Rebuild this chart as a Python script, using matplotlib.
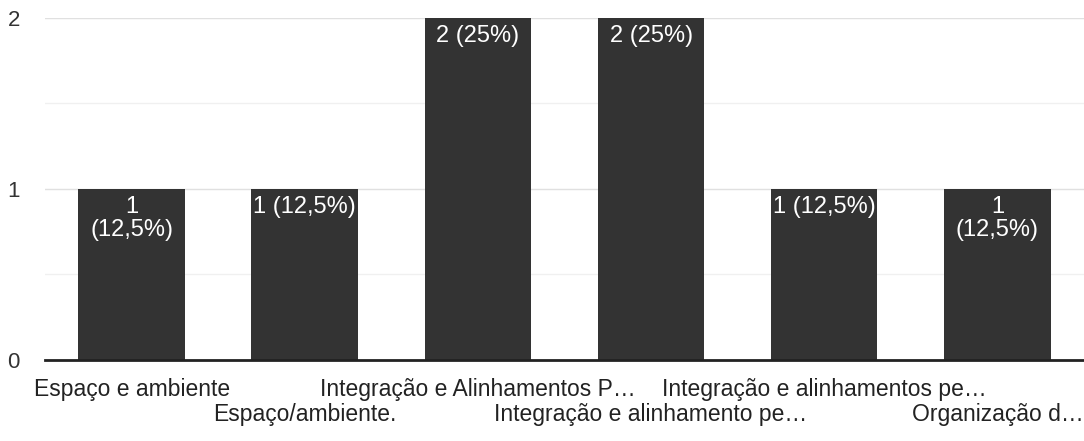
import matplotlib.pyplot as plt
from matplotlib.ticker import MultipleLocator

plt.rcParams['font.family'] = ['Liberation Sans', 'DejaVu Sans']

categorias = ['Espaço e ambiente', 'Espaço/ambiente.', 'Integração e Alinhamentos P…',
              'Integração e alinhamento pe…', 'Integração e alinhamentos pe…', 'Organização d…']
respostas = [1, 1, 2, 2, 1, 1]
quebra_linha = [True, False, False, False, False, True]

total = sum(respostas)

fig = plt.figure(figsize=(10.84, 4.41), dpi=100)
ax = fig.add_axes([0.0415, 0.1837, 0.9585, 0.776])

x = list(range(len(categorias)))
barras = ax.bar(x, respostas, width=0.615, color='#333333', zorder=3)

for b, v, q in zip(barras, respostas, quebra_linha):
    pct = f'{100 * v / total:g}'.replace('.', ',')
    sep = '\n' if q else ' '
    ax.annotate(f'{v}{sep}({pct}%)', (b.get_x() + b.get_width() / 2, v),
                xytext=(0, -5), textcoords='offset points', ha='center', va='top',
                color='white', fontsize=17, linespacing=1.05, zorder=4)

ax.set_xlim(-0.5, len(categorias) - 0.5)
ax.set_ylim(0, 2)
ax.yaxis.set_major_locator(MultipleLocator(1))
ax.yaxis.set_minor_locator(MultipleLocator(0.5))
ax.grid(axis='y', which='major', color='#e0e0e0', linewidth=1, zorder=0)
ax.grid(axis='y', which='minor', color='#f0f0f0', linewidth=1, zorder=0)

for s in ['top', 'right', 'left']:
    ax.spines[s].set_visible(False)
ax.spines['bottom'].set_linewidth(2)
ax.spines['bottom'].set_color('#222222')
ax.spines['bottom'].set_zorder(5)

ax.tick_params(axis='y', which='both', length=0, labelsize=16, pad=18, colors='#333333')
ax.tick_params(axis='x', length=0, pad=0)
ax.set_xticks(x)
ax.set_xticklabels([])
# rótulos alternados em duas linhas para não sobrepor
for i, nome in enumerate(categorias):
    dy = -21 if i % 2 == 0 else -39
    ax.annotate(nome, (i, 0), xytext=(0, dy), textcoords='offset points',
                ha='center', va='center', fontsize=16.5, color='#222222',
                annotation_clip=False)

fig.savefig('out.png', dpi=100)
